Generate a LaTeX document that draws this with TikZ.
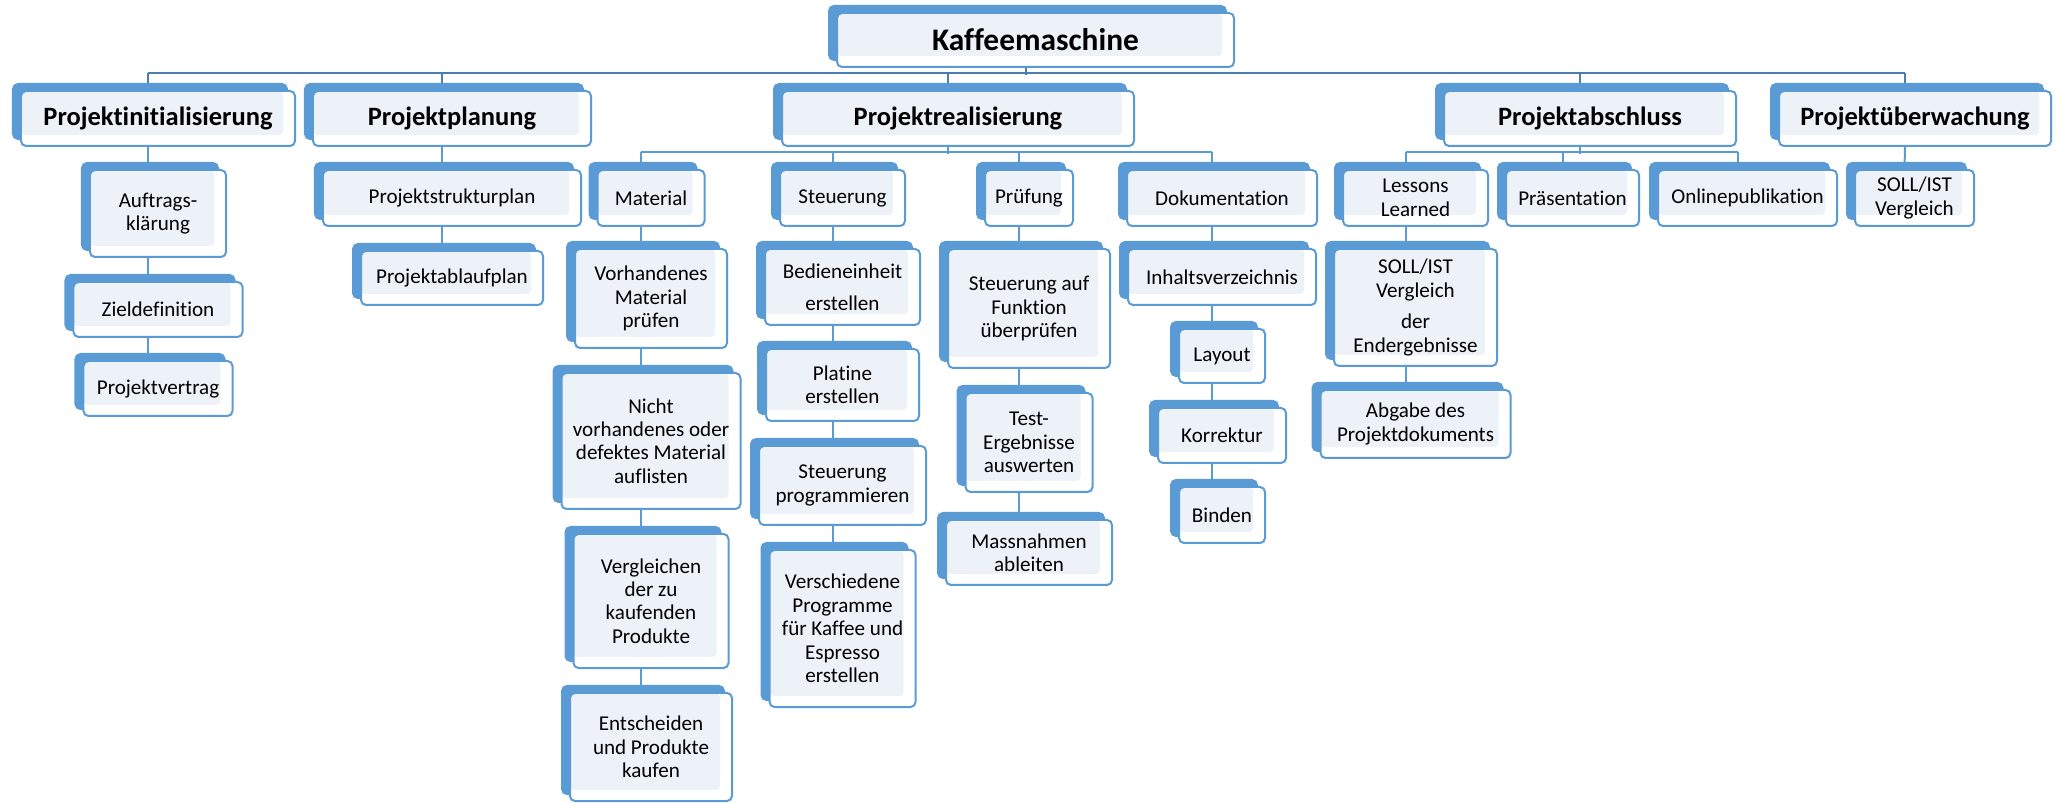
\documentclass[tikz,border=0pt]{standalone}
\usepackage{fontspec}
\setmainfont{Carlito}[Ligatures=NoCommon]
\usetikzlibrary{calc,shadows}
\pgfdeclarelayer{bg}
\pgfsetlayers{bg,main}
\definecolor{boxblue}{HTML}{5B9BD5}
\definecolor{boxlight}{HTML}{EDF2F9}
\definecolor{busblue}{HTML}{4A7DB0}
\tikzset{
  wbsbox/.style={rectangle, rounded corners=0.075cm, draw=boxblue,
    line width=0.03cm, fill=white, inner sep=0pt, align=center,
    font=\fontsize{9}{10}\selectfont, minimum height=0.84cm,
    copy shadow={shadow xshift=-0.12cm, shadow yshift=0.105cm,
      fill=boxblue, draw=boxblue},
    path picture={\fill[boxlight, rounded corners=0.06cm]
      ([yshift=0.165cm]path picture bounding box.south west) rectangle
      ([xshift=-0.18cm]path picture bounding box.north east);}},
  phasebox/.style={wbsbox, font=\fontsize{11.3}{13}\selectfont\bfseries,
    minimum height=0.825cm},
  rootbox/.style={wbsbox, font=\fontsize{13.4}{15}\selectfont\bfseries,
    minimum height=0.81cm},
  link/.style={draw=boxblue, line width=0.03cm},
  busline/.style={draw=busblue, line width=0.03cm}
}

\begin{document}
\begin{tikzpicture}[x=0.015cm, y=-0.015cm]
  \useasboundingbox (0,0) rectangle (2062,804);

  \node (kaffee) [rootbox, minimum width=5.955cm] at (1035.5, 40) {Kaffeemaschine};

  \node (init) [phasebox, minimum width=4.11cm] at (158, 118.5) {Projektinitialisierung};
  \node (plan) [phasebox, minimum width=4.17cm] at (452, 118.5) {Projektplanung};
  \node (real) [phasebox, minimum width=5.28cm] at (958, 118.5) {Projektrealisierung};
  \node (absch) [phasebox, minimum width=4.38cm] at (1590, 118.5) {Projektabschluss};
  \node (ueber) [phasebox, minimum width=4.08cm] at (1915, 118.5) {Projektüberwachung};

  \node (auftrag) [wbsbox, minimum width=2.04cm, minimum height=1.305cm] at (158, 213.5) {Auftrags-\\klärung};
  \node (ziel) [wbsbox, minimum width=2.535cm, minimum height=0.825cm] at (158, 309.5) {Zieldefinition};
  \node (vertrag) [wbsbox, minimum width=2.235cm, minimum height=0.825cm] at (158, 388.5) {Projektvertrag};

  \node (struktur) [wbsbox, minimum width=3.87cm] at (452, 198) {Projektstrukturplan};
  \node (ablauf) [wbsbox, minimum width=2.73cm, minimum height=0.81cm] at (452, 278) {Projektablaufplan};

  \node (material) [wbsbox, minimum width=1.605cm] at (651, 198) {Material};
  \node (vorh) [wbsbox, minimum width=2.28cm, minimum height=1.485cm] at (651, 298.5) {Vorhandenes\\Material\\prüfen};
  \node (nicht) [wbsbox, minimum width=2.685cm, minimum height=2.04cm] at (651, 441) {Nicht\\vorhandenes oder\\defektes Material\\auflisten};
  \node (vergl) [wbsbox, minimum width=2.325cm, minimum height=2.01cm] at (651, 601) {Vergleichen\\der zu\\kaufenden\\Produkte};
  \node (entsch) [wbsbox, minimum width=2.43cm, minimum height=1.62cm] at (651, 747) {Entscheiden\\und Produkte\\kaufen};

  \node (steuer) [wbsbox, minimum width=1.875cm] at (842.5, 198) {Steuerung};
  \node (bedien) [wbsbox, minimum width=2.325cm, minimum height=1.14cm] at (842.5, 287) {Bedieneinheit\\[3.6pt]erstellen};
  \node (platine) [wbsbox, minimum width=2.295cm, minimum height=1.08cm] at (842.5, 385) {Platine\\erstellen};
  \node (progr) [wbsbox, minimum width=2.505cm, minimum height=1.185cm] at (842.5, 485.5) {Steuerung\\programmieren};
  \node (versch) [wbsbox, minimum width=2.19cm, minimum height=2.355cm] at (842.5, 628.5) {Verschiedene\\Programme\\für Kaffee und\\Espresso\\erstellen};

  \node (pruef) [wbsbox, minimum width=1.32cm] at (1029, 198) {Prüfung};
  \node (funkt) [wbsbox, minimum width=2.43cm, minimum height=1.785cm] at (1029, 308.5) {Steuerung auf\\Funktion\\überprüfen};
  \node (test) [wbsbox, minimum width=1.905cm, minimum height=1.485cm] at (1029, 442.5) {Test-\\Ergebnisse\\auswerten};
  \node (massn) [wbsbox, minimum width=2.49cm, minimum height=0.975cm] at (1029, 552.5) {Massnahmen\\ableiten};

  \node (doku) [wbsbox, minimum width=2.85cm] at (1222, 198) {Dokumentation};
  \node (inhalt) [wbsbox, minimum width=2.82cm] at (1222, 277) {Inhaltsverzeichnis};
  \node (layout) [wbsbox, minimum width=1.29cm, minimum height=0.81cm] at (1222, 356) {Layout};
  \node (korr) [wbsbox, minimum width=1.92cm, minimum height=0.825cm] at (1222, 435.5) {Korrektur};
  \node (binden) [wbsbox, minimum width=1.29cm] at (1222, 515) {Binden};

  \node (lessons) [wbsbox, minimum width=2.175cm] at (1415.5, 198) {Lessons\\Learned};
  \node (sollist) [wbsbox, minimum width=2.445cm, minimum height=1.755cm] at (1415.5, 307.5) {SOLL/IST\\Vergleich\\[3.6pt]der\\Endergebnisse};
  \node (abgabe) [wbsbox, minimum width=2.85cm, minimum height=1.02cm] at (1415.5, 424) {Abgabe des\\Projektdokuments};
  \node (praes) [wbsbox, minimum width=1.995cm] at (1572.5, 198) {Präsentation};
  \node (online) [wbsbox, minimum width=2.685cm] at (1747.5, 198) {Onlinepublikation};

  \node (sollue) [wbsbox, minimum width=1.785cm] at (1914.5, 198) {SOLL/IST\\Vergleich};

  \begin{pgfonlayer}{bg}
    \draw[busline] ($(kaffee.south)+(-10,0)$) -- ($(kaffee.south)+(-10,7)$);
    \draw[busline] ($(init.north)+(-10,-17)$) -- ($(ueber.north)+(-10,-17)$);
    \foreach \n in {init,plan,real,absch,ueber}
      \draw[busline] ($(\n.north)+(-10,-17)$) -- ($(\n.north)+(-10,0)$);

    \draw[link] ($(real.south)+(-10,0)$) -- ($(real.south)+(-10,7)$);
    \draw[link] ($(material.north)+(-10,-17)$) -- ($(doku.north)+(-10,-17)$);
    \foreach \n in {material,steuer,pruef,doku}
      \draw[link] ($(\n.north)+(-10,-17)$) -- ($(\n.north)+(-10,0)$);

    \draw[link] ($(absch.south)+(-10,0)$) -- ($(absch.south)+(-10,7)$);
    \draw[link] ($(lessons.north)+(-10,-17)$) -- ($(online.north)+(-10,-17)$);
    \foreach \n in {lessons,praes,online}
      \draw[link] ($(\n.north)+(-10,-17)$) -- ($(\n.north)+(-10,0)$);

    \draw[link] ($(init.south)+(-10,0)$) -- ($(vertrag.north)+(-10,0)$);
    \draw[link] ($(plan.south)+(-10,0)$) -- ($(ablauf.north)+(-10,0)$);
    \draw[link] ($(material.south)+(-10,0)$) -- ($(entsch.north)+(-10,0)$);
    \draw[link] ($(steuer.south)+(-10,0)$) -- ($(versch.north)+(-10,0)$);
    \draw[link] ($(pruef.south)+(-10,0)$) -- ($(massn.north)+(-10,0)$);
    \draw[link] ($(doku.south)+(-10,0)$) -- ($(binden.north)+(-10,0)$);
    \draw[link] ($(lessons.south)+(-10,0)$) -- ($(abgabe.north)+(-10,0)$);
    \draw[link] ($(ueber.south)+(-10,0)$) -- ($(sollue.north)+(-10,0)$);
  \end{pgfonlayer}
\end{tikzpicture}
\end{document}
